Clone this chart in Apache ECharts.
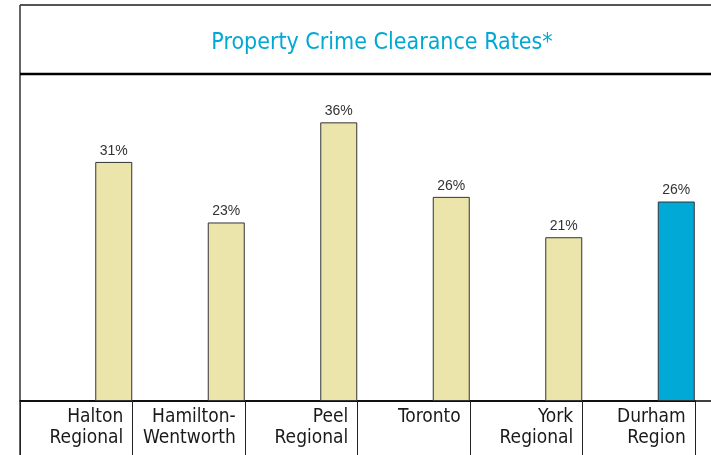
<!DOCTYPE html>
<html>
<head>
<meta charset="utf-8">
<script src="https://cdn.jsdelivr.net/npm/echarts@6/dist/echarts.min.js"></script>
<style>html,body{margin:0;padding:0;background:#fff;}#c{width:711px;height:455px;}</style>
</head>
<body>
<div id="c"></div>
<script>
var titleText = 'Property Crime Clearance Rates*';
var categories = ['Halton\nRegional', 'Hamilton-\nWentworth', 'Peel\nRegional', 'Toronto', 'York\nRegional', 'Durham\nRegion'];
var clearanceRates = [30.8, 23.0, 35.9, 26.3, 21.1, 25.7];
var highlightIndex = 5;
var spacerValues = [0, 0, 0, 0, 0, 0];

var FONT = "'DejaVu Sans Condensed', 'DejaVu Sans', sans-serif";
var chart = echarts.init(document.getElementById('c'), null, {renderer: 'canvas'});
chart.setOption({
  animation: false,
  backgroundColor: '#fff',
  title: {
    text: titleText,
    left: 377, top: 27, textAlign: 'center',
    textStyle: {fontFamily: FONT, fontSize: 23, fontWeight: 'normal', color: '#00a8d4'}
  },
  grid: {left: 20, right: 16, top: 75, bottom: 54, containLabel: false},
  xAxis: {
    type: 'category',
    data: categories,
    axisLine: {show: true, lineStyle: {color: '#000', width: 1.5}},
    axisTick: {show: true, interval: 0, length: 54, lineStyle: {color: '#222', width: 1}},
    axisLabel: {
      interval: 0, margin: 6, align: 'center', width: 94,
      formatter: function (v) { return v.split('\n').map(function (s) { return '{a|' + s + '}'; }).join('\n'); },
      rich: {a: {align: 'right', fontFamily: FONT, fontSize: 19, lineHeight: 21, color: '#1a1a1a'}}
    }
  },
  yAxis: {type: 'value', min: 0, max: 42, show: false},
  series: [
    {
      type: 'bar', data: spacerValues, barWidth: 75, barGap: '0%', silent: true,
      itemStyle: {color: 'rgba(0,0,0,0)'}
    },
    {
      type: 'bar',
      barWidth: 37,
      data: clearanceRates.map(function (v, i) {
        return {value: v, itemStyle: {color: i === highlightIndex ? '#00a9d6' : '#ebe5ab'}};
      }),
      itemStyle: {borderColor: '#333', borderWidth: 1},
      label: {
        show: true, position: 'top', distance: 4,
        formatter: function (p) { return Math.round(p.value) + '%'; },
        fontFamily: "'Liberation Sans', Arial, sans-serif", fontSize: 14, color: '#333'
      }
    }
  ],
  graphic: [
    {type: 'line', shape: {x1: 20, y1: 5, x2: 711, y2: 5}, style: {stroke: '#555', lineWidth: 2}},
    {type: 'line', shape: {x1: 20, y1: 5, x2: 20, y2: 455}, style: {stroke: '#333', lineWidth: 1.5}},
    {type: 'line', shape: {x1: 20, y1: 74, x2: 711, y2: 74}, style: {stroke: '#000', lineWidth: 2.5}},
    {type: 'line', shape: {x1: 20, y1: 401, x2: 711, y2: 401}, style: {stroke: '#000', lineWidth: 1.5}}
  ]
});
</script>
</body>
</html>
